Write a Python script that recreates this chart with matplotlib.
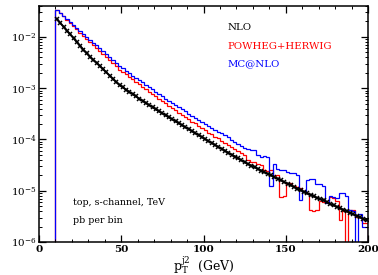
import numpy as np
import matplotlib
matplotlib.use("Agg")
import matplotlib.pyplot as plt

plt.rcParams['font.family'] = ['DejaVu Serif']
plt.rcParams['mathtext.fontset'] = 'dejavuserif'

# bins: 0-10 empty, then 2 GeV bins from 10 to 200
bin_edges = [0] + list(range(10, 201, 2))
bin_centres = list(range(11, 200, 2))

# log10 of pb per bin
nlo_log10 = [
    -1.655, -1.729, -1.803, -1.877, -1.951, -2.025, -2.099, -2.173, -2.247, -2.321,
    -2.383, -2.445, -2.507, -2.569, -2.631, -2.693, -2.755, -2.817, -2.879, -2.941,
    -2.985, -3.030, -3.075, -3.118, -3.162, -3.205, -3.247, -3.290, -3.331, -3.372,
    -3.413, -3.453, -3.493, -3.532, -3.571, -3.610, -3.648, -3.686, -3.724,
    -3.763, -3.801, -3.840, -3.878, -3.917, -3.955, -3.994, -4.032, -4.071, -4.108,
    -4.146, -4.183, -4.221, -4.258, -4.296, -4.333, -4.371, -4.408, -4.445, -4.480,
    -4.510, -4.542, -4.574, -4.606, -4.638, -4.670, -4.702, -4.734, -4.766, -4.798,
    -4.830, -4.862, -4.894, -4.926, -4.958, -4.990, -5.022, -5.054,
    -5.083, -5.112, -5.141, -5.160, -5.190, -5.228, -5.257, -5.286, -5.315, -5.344,
    -5.373, -5.402, -5.431, -5.460, -5.489, -5.518, -5.547, -5.576,
]

powheg_log10 = [
    -1.470, -1.534, -1.598, -1.662, -1.726, -1.790, -1.854, -1.918, -1.982, -2.046,
    -2.103, -2.160, -2.217, -2.274, -2.331, -2.393, -2.450, -2.512, -2.574, -2.636,
    -2.685, -2.730, -2.780, -2.828, -2.877, -2.925, -2.972, -3.020, -3.066, -3.112,
    -3.158, -3.203, -3.248, -3.292, -3.341, -3.385, -3.428, -3.476, -3.519,
    -3.563, -3.606, -3.650, -3.688, -3.732, -3.775, -3.814, -3.865, -3.901, -3.943,
    -3.981, -4.023, -4.061, -4.103, -4.146, -4.183, -4.226, -4.268, -4.305, -4.400,
    -4.430, -4.440, -4.470, -4.500, -4.600, -4.620, -4.600, -4.720, -4.700, -5.120,
    -5.100, -4.850, -4.840, -4.900, -4.930, -4.950, -5.000, -5.050,
    -5.380, -5.400, -5.380, -5.200, -5.220, -5.220, -5.120, -5.150, -5.200, -5.570,
    -5.400, None, -5.380, -5.380, -5.510, -5.510, -5.630, -5.630,
]

mcatnlo_log10 = [
    -1.470, -1.529, -1.588, -1.647, -1.706, -1.765, -1.824, -1.883, -1.947, -2.011,
    -2.063, -2.115, -2.167, -2.219, -2.276, -2.333, -2.390, -2.447, -2.509, -2.566,
    -2.610, -2.660, -2.705, -2.753, -2.797, -2.845, -2.887, -2.935, -2.981, -3.022,
    -3.068, -3.113, -3.158, -3.202, -3.246, -3.290, -3.328, -3.371, -3.414,
    -3.453, -3.496, -3.540, -3.578, -3.617, -3.655, -3.694, -3.732, -3.771, -3.808,
    -3.846, -3.883, -3.921, -3.958, -4.006, -4.043, -4.081, -4.128, -4.165, -4.190,
    -4.210, -4.210, -4.300, -4.340, -4.330, -4.350, -4.900, -4.480, -4.580, -4.600,
    -4.600, -4.630, -4.650, -4.660, -4.700, -5.180, -5.000, -4.800,
    -4.780, -4.780, -4.860, -4.860, -4.900, -5.240, -5.100, -5.120, -5.140, -5.040,
    -5.040, -5.100, -5.380, -5.400, None, -5.450, -5.700, -5.700,
]


def to_pb(logs):
    # empty bin below 10 GeV, None = empty bin
    return np.array([0.0] + [0.0 if v is None else 10 ** v for v in logs])


nlo = 10 ** np.array(nlo_log10)
powheg = to_pb(powheg_log10)
mcatnlo = to_pb(mcatnlo_log10)

fig = plt.figure(figsize=(3.78, 2.75), dpi=100)
ax = fig.add_axes([0.103, 0.12, 0.871, 0.858])

ax.stairs(powheg, bin_edges, baseline=0, color='#ff0000', lw=0.9)
ax.stairs(mcatnlo, bin_edges, baseline=0, color='#0000ff', lw=0.9)
ax.plot(bin_centres, nlo, color='black', lw=1.4, marker='x', ms=3.5, mew=1.1)

ax.set_yscale('log')
ax.set_xlim(0, 200)
ax.set_ylim(1e-6, 4e-2)
ax.set_xticks([0, 50, 100, 150, 200])
ax.set_xticks(range(0, 201, 10), minor=True)
ax.tick_params(which='both', direction='in', top=True, right=True, labelsize=7.5, pad=2)
ax.tick_params(which='major', length=5, width=0.9)
ax.tick_params(which='minor', length=2.5, width=0.7)
for lab in ax.get_xticklabels():
    lab.set_fontweight('bold')
for s in ax.spines.values():
    s.set_linewidth(1.1)

ax.set_xlabel(r'$\mathrm{p}_\mathrm{T}^\mathrm{j2}$  (GeV)', fontsize=9)
ax.xaxis.set_label_coords(0.5, -0.053)

kw = dict(transform=ax.transAxes, va='center', fontsize=7.3)
ax.text(0.572, 0.911, 'NLO', color='black', **kw)
ax.text(0.572, 0.830, 'POWHEG+HERWIG', color='#ff0000', **kw)
ax.text(0.572, 0.754, 'MC@NLO', color='#0000ff', **kw)
kw['fontsize'] = 6.8
ax.text(0.102, 0.167, 'top, s-channel, TeV', **kw)
ax.text(0.102, 0.093, 'pb per bin', **kw)

fig.savefig('out.png', dpi=100)
